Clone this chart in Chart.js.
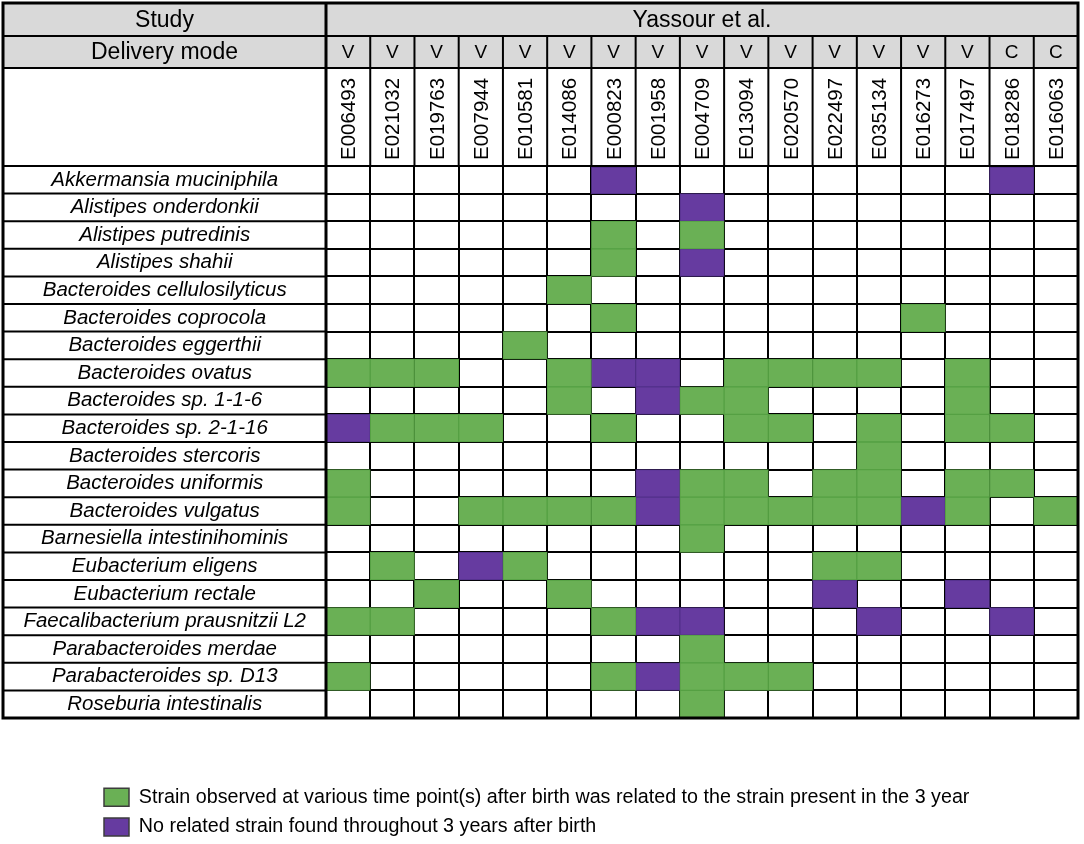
<!DOCTYPE html>
<html>
<head>
<meta charset="utf-8">
<script src="https://cdn.jsdelivr.net/npm/chart.js@4.4.1/dist/chart.umd.min.js"></script>
<style>
html,body{margin:0;padding:0;background:#fff;}
#wrap{width:1084px;height:844px;position:relative;}
</style>
</head>
<body>
<div id="wrap"><canvas id="c"></canvas></div>
<script>
// ---------- data ----------
const headerLabels = ['Study', 'Delivery mode'];
const studyName = 'Yassour et al.';
const samples = ['E006493','E021032','E019763','E007944','E010581','E014086','E000823','E001958','E004709','E013094','E020570','E022497','E035134','E016273','E017497','E018286','E016063'];
const deliveryMode = ['V','V','V','V','V','V','V','V','V','V','V','V','V','V','V','C','C'];
const species = [
  'Akkermansia muciniphila',
  'Alistipes onderdonkii',
  'Alistipes putredinis',
  'Alistipes shahii',
  'Bacteroides cellulosilyticus',
  'Bacteroides coprocola',
  'Bacteroides eggerthii',
  'Bacteroides ovatus',
  'Bacteroides sp. 1-1-6',
  'Bacteroides sp. 2-1-16',
  'Bacteroides stercoris',
  'Bacteroides uniformis',
  'Bacteroides vulgatus',
  'Barnesiella intestinihominis',
  'Eubacterium eligens',
  'Eubacterium rectale',
  'Faecalibacterium prausnitzii L2',
  'Parabacteroides merdae',
  'Parabacteroides sp. D13',
  'Roseburia intestinalis'
];
// G = related strain observed, P = no related strain found, . = empty (one char per sample)
const cellStatus = [
  '......P........P.',
  '........P........',
  '......G.G........',
  '......G.P........',
  '.....G...........',
  '......G......G...',
  '....G............',
  'GGG..GPP.GGGG.G..',
  '.....G.PGG....G..',
  'PGGG..G..GG.G.GG.',
  '............G....',
  'G......PGG.GG.GG.',
  'G..GGGGPGGGGGPG.G',
  '........G........',
  '.G.PG......GG....',
  '..G..G.....P..P..',
  'GG....GPP...P..P.',
  '........G........',
  'G.....GPGGG......',
  '........G........'
];
const legendLabels = [
  'Strain observed at various time point(s) after birth was related to the strain present in the 3 year',
  'No related strain found throughout 3 years after birth'
];

// ---------- styles ----------
const FONT = '"Liberation Sans", Arial, Helvetica, sans-serif';
const GREEN = '#6ab055', GREEN_EDGE = '#55a043';
const PURPLE = '#663ba0', PURPLE_EDGE = '#52308a';
const HEADER_GRAY = '#d9d9d9';
const TABLE_LEFT = 3, TABLE_TOP = 3, STUDY_ROW_H = 33, MODE_ROW_H = 32;

function cellsOf(code) {
  const out = [];
  cellStatus.forEach((row, r) => {
    [...row].forEach((ch, c) => {
      if (ch === code) out.push({ x: samples[c], y: [r, r + 1] });
    });
  });
  return out;
}

const tablePlugin = {
  id: 'tableFrame',
  afterLayout(chart) {
    const lg = chart.legend;
    if (lg) {
      const h = lg.height;
      lg.left = 94; lg.top = 777.5;
      lg.width = chart.width - lg.left;
      lg.right = chart.width; lg.bottom = lg.top + h;
    }
  },
  beforeDraw(chart) {
    const ctx = chart.ctx, ca = chart.chartArea, xs = chart.scales.x;
    ctx.save();
    ctx.fillStyle = '#fff';
    ctx.fillRect(0, 0, chart.width, chart.height);
    ctx.fillStyle = HEADER_GRAY;
    ctx.fillRect(TABLE_LEFT, TABLE_TOP, ca.right - TABLE_LEFT, xs.top - TABLE_TOP);
    ctx.restore();
  },
  afterDraw(chart) {
    const ctx = chart.ctx, ca = chart.chartArea, xs = chart.scales.x, ys = chart.scales.y;
    const y1 = TABLE_TOP + STUDY_ROW_H;
    const colW = (ca.right - ca.left) / samples.length;
    ctx.save();
    ctx.strokeStyle = '#000';
    // horizontal header lines
    ctx.lineWidth = 2;
    [y1, xs.top, ca.top].forEach(y => {
      ctx.beginPath(); ctx.moveTo(TABLE_LEFT, y); ctx.lineTo(ca.right, y); ctx.stroke();
    });
    // row lines in label column
    for (let k = 1; k < species.length; k++) {
      const y = ys.getPixelForValue(k);
      ctx.beginPath(); ctx.moveTo(TABLE_LEFT, y); ctx.lineTo(ca.left, y); ctx.stroke();
    }
    // column lines in header rows 2 and 3
    for (let i = 1; i < samples.length; i++) {
      const x = xs.getPixelForValue(i) - colW / 2;
      ctx.beginPath(); ctx.moveTo(x, y1); ctx.lineTo(x, ca.top); ctx.stroke();
    }
    // thick divider and frame
    ctx.lineWidth = 3;
    ctx.beginPath(); ctx.moveTo(ca.left, TABLE_TOP); ctx.lineTo(ca.left, ca.bottom); ctx.stroke();
    ctx.strokeRect(TABLE_LEFT, TABLE_TOP, ca.right - TABLE_LEFT, ca.bottom - TABLE_TOP);
    // header texts
    ctx.fillStyle = '#000';
    ctx.textAlign = 'center';
    ctx.textBaseline = 'middle';
    ctx.font = '23px ' + FONT;
    const labelMid = (TABLE_LEFT + ca.left) / 2;
    ctx.fillText(headerLabels[0], labelMid, (TABLE_TOP + y1) / 2 + 1);
    ctx.fillText(studyName, (ca.left + ca.right) / 2, (TABLE_TOP + y1) / 2 + 1);
    ctx.fillText(headerLabels[1], labelMid, (y1 + xs.top) / 2 + 1);
    ctx.font = '19px ' + FONT;
    deliveryMode.forEach((m, i) => {
      ctx.fillText(m, xs.getPixelForValue(i), (y1 + xs.top) / 2 + 1);
    });
    ctx.restore();
  }
};

const barCommon = {
  borderWidth: 1, borderSkipped: false, grouped: false,
  barPercentage: 1, categoryPercentage: 1, xAxisID: 'x', yAxisID: 'y'
};

new Chart(document.getElementById('c'), {
  type: 'bar',
  data: {
    labels: samples,
    datasets: [
      Object.assign({ label: legendLabels[0], data: cellsOf('G'), backgroundColor: GREEN, borderColor: GREEN_EDGE }, barCommon),
      Object.assign({ label: legendLabels[1], data: cellsOf('P'), backgroundColor: PURPLE, borderColor: PURPLE_EDGE }, barCommon)
    ]
  },
  options: {
    responsive: true,
    maintainAspectRatio: false,
    animation: false,
    layout: { padding: { left: TABLE_LEFT, top: TABLE_TOP + STUDY_ROW_H + MODE_ROW_H, right: 6, bottom: 126 } },
    scales: {
      x: {
        type: 'category', position: 'top', labels: samples, offset: true, z: 1,
        grid: { color: '#000', lineWidth: 2, offset: true, drawTicks: false },
        border: { display: false },
        ticks: { color: '#000', font: { family: FONT, size: 20.5 }, minRotation: 90, maxRotation: 90, padding: 6, labelOffset: 26, autoSkip: false },
        afterFit: s => { s.height = 98; }
      },
      y: {
        type: 'linear', min: 0, max: 20, reverse: true, position: 'right', z: 1,
        ticks: { display: false, stepSize: 1 },
        grid: { color: '#000', lineWidth: 2, drawTicks: false },
        border: { display: false }
      },
      ySpecies: {
        type: 'category', labels: species, position: 'left', offset: true,
        grid: { display: false, drawTicks: false },
        border: { display: false },
        ticks: { color: '#000', font: { family: FONT, size: 20.5, style: 'italic' }, crossAlign: 'center', padding: 20, autoSkip: false },
        afterFit: s => { s.width = 323; }
      }
    },
    plugins: {
      tooltip: { enabled: false },
      legend: {
        position: 'chartArea', align: 'start',
        labels: {
          color: '#000', font: { family: FONT, size: 19.7 }, boxWidth: 25, boxHeight: 18, padding: 10,
          generateLabels: chart => Chart.defaults.plugins.legend.labels.generateLabels(chart)
            .map(l => Object.assign({}, l, { strokeStyle: '#3c3c3c', lineWidth: 1.5 }))
        }
      }
    }
  },
  plugins: [tablePlugin]
});
</script>
</body>
</html>
